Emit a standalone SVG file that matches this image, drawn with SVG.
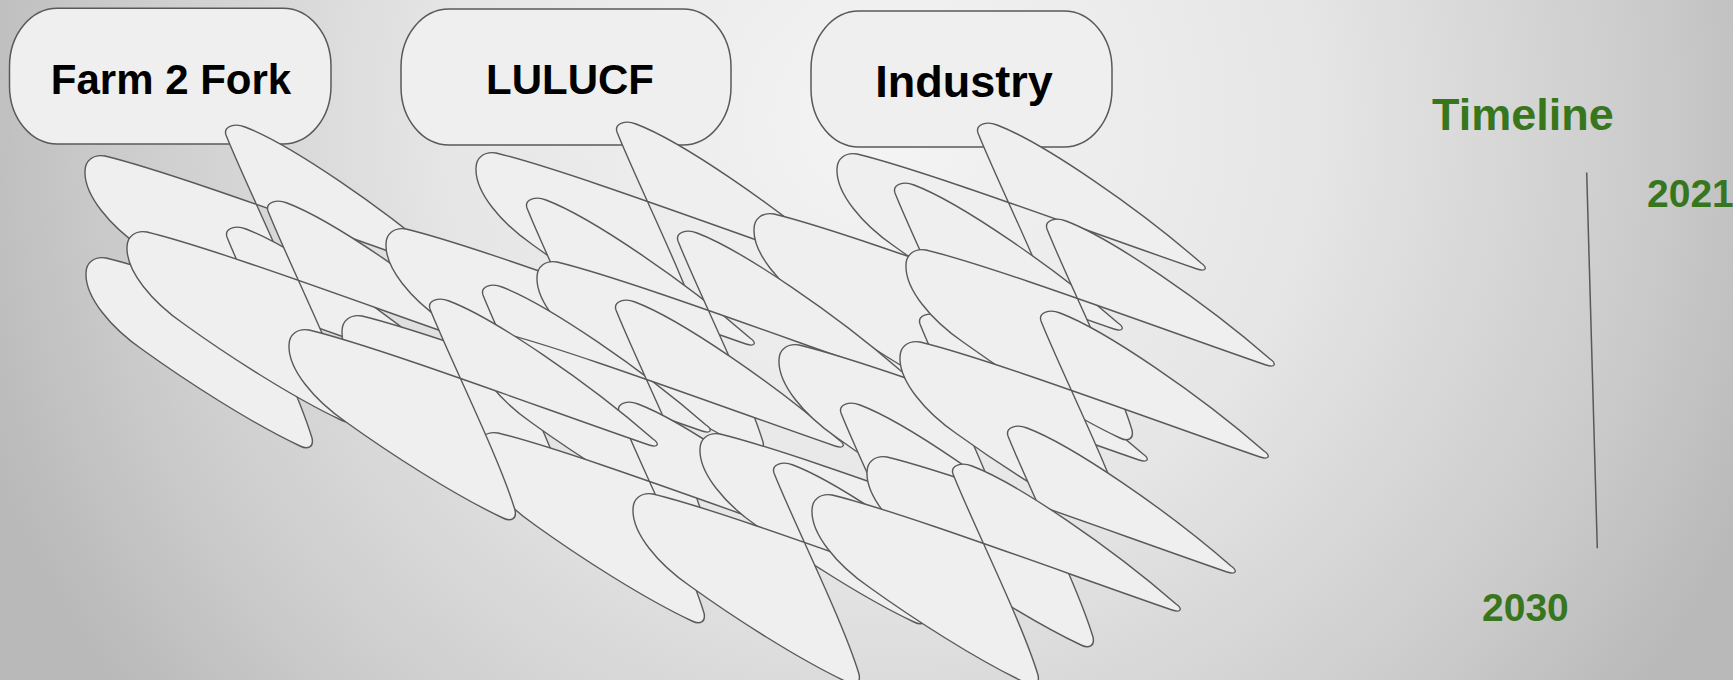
<svg xmlns="http://www.w3.org/2000/svg" width="1733" height="680" viewBox="0 0 1733 680">
<defs>
<radialGradient id="bg" gradientUnits="userSpaceOnUse" cx="880" cy="120" r="950">
<stop offset="0" stop-color="#f4f4f4"/>
<stop offset="0.45" stop-color="#e6e6e6"/>
<stop offset="0.8" stop-color="#cccccc"/>
<stop offset="1" stop-color="#b9b9b9"/>
</radialGradient>
<path id="leaf" class="lf" d="M0,0 C-1,24 25,55 57,77 C100,108 165,150 214,173 C222,177 228,174 226,165 C210,112 160,12 141,-36 C138,-45 150,-48 160,-44 C205,-27 300,38 364,94 C371,99 369,103 360,100 C250,62 90,2 20,-15 C8,-17 0,-10 0,0 Z"/>
</defs>
<style>
.lf{fill:#efefef;stroke:#595959;stroke-width:1.4;stroke-linejoin:round}
.box{fill:#efefef;stroke:#595959;stroke-width:1.5}
.bt{font-family:"Liberation Sans",Arial,sans-serif;font-weight:bold;font-size:42px;fill:#000;text-anchor:middle}
.gt{font-family:"Liberation Sans",Arial,sans-serif;font-weight:bold;fill:#38761d}
</style>
<rect width="1733" height="680" fill="url(#bg)"/>
<g id="farm2fork">
<rect class="box" x="9.5" y="8.3" width="321.5" height="135.7" rx="48" ry="58"/>
<text class="bt" x="171" y="94">Farm 2 Fork</text>
</g>
<g id="lulucf">
<rect class="box" x="401" y="9" width="330" height="136" rx="48" ry="58"/>
<text class="bt" x="570" y="94">LULUCF</text>
</g>
<g id="industry">
<rect class="box" x="811" y="11" width="301" height="136" rx="48" ry="58"/>
<text class="bt" x="964" y="97" font-size="45" style="font-size:45px">Industry</text>
</g>
<g id="leaves">
<use href="#leaf" transform="translate(476,168)"/>
<use href="#leaf" transform="translate(85,171)"/>
<use href="#leaf" transform="translate(86,273)"/>
<use href="#leaf" transform="translate(127,247)"/>
<use href="#leaf" transform="translate(837,169)"/>
<use href="#leaf" transform="translate(754,229)"/>
<use href="#leaf" transform="translate(386,244)"/>
<use href="#leaf" transform="translate(537,277)"/>
<use href="#leaf" transform="translate(342,331)"/>
<use href="#leaf" transform="translate(475,346)"/>
<use href="#leaf" transform="translate(478,448)"/>
<use href="#leaf" transform="translate(289,345)"/>
<use href="#leaf" transform="translate(779,360)"/>
<use href="#leaf" transform="translate(906,265)"/>
<use href="#leaf" transform="translate(900,357)"/>
<use href="#leaf" transform="translate(700,449)"/>
<use href="#leaf" transform="translate(867,472)"/>
<use href="#leaf" transform="translate(633,509)"/>
<use href="#leaf" transform="translate(812,510)"/>
</g>
<g id="timeline">
<text class="gt" x="1432" y="130" font-size="45">Timeline</text>
<line x1="1586.7" y1="172.5" x2="1597.3" y2="548.2" stroke="#595959" stroke-width="1.5"/>
<text class="gt" x="1647" y="207" font-size="39">2021</text>
<text class="gt" x="1482" y="620.5" font-size="39">2030</text>
</g>
</svg>
